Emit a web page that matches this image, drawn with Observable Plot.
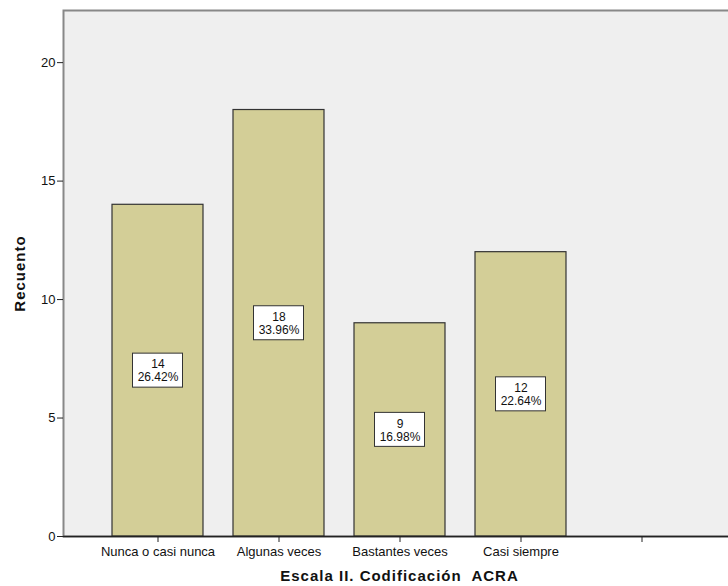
<!DOCTYPE html>
<html>
<head>
<meta charset="utf-8">
<script src="https://cdn.jsdelivr.net/npm/d3@7"></script>
<script src="https://cdn.jsdelivr.net/npm/@observablehq/plot@0.6"></script>
<style>
  html, body { margin: 0; padding: 0; background: white; overflow: hidden; }
  #chart svg { overflow: hidden; }
</style>
</head>
<body>
<div id="chart"></div>
<script>
const categories = ["Nunca o casi nunca", "Algunas veces", "Bastantes veces", "Casi siempre", ""];
const counts = [14, 18, 9, 12];
const percents = ["26.42%", "33.96%", "16.98%", "22.64%"];
const yTicks = [0, 5, 10, 15, 20];

const data = counts.map((c, i) => ({cat: categories[i], count: c, label: `${c}\n${percents[i]}`}));

const chart = Plot.plot({
  width: 728,
  height: 586,
  marginLeft: 63,
  marginRight: -7,
  marginTop: 10,
  marginBottom: 50,
  style: {fontFamily: "'Liberation Sans', Arial, sans-serif", fontSize: "12px", color: "#111", background: "white"},
  x: {domain: categories, paddingInner: 0.25, paddingOuter: 0.4, label: null},
  y: {domain: [0, 22.2], label: null},
  marks: [
    Plot.frame({fill: "#efefef", stroke: "#888", strokeWidth: 2}),
    Plot.barY(data, {x: "cat", y: "count", fill: "#d3ce97", stroke: "#333", strokeWidth: 1.2}),
    Plot.rect(data, {x: "cat", y1: d => d.count / 2, y2: d => d.count / 2, insetLeft: 20.5, insetRight: 20.5, insetTop: -17, insetBottom: -17, fill: "white", stroke: "#333", strokeWidth: 1}),
    Plot.text(data, {x: "cat", y: d => d.count / 2, text: "label", fill: "#111", fontSize: 12, lineHeight: 1.08}),
    Plot.axisY({ticks: yTicks, tickSize: 6, tickPadding: 2, stroke: "#222", fontSize: 13, label: "Recuento", labelAnchor: "center", labelArrow: "none", labelOffset: 49}),
    Plot.axisX({tickSize: 6, tickPadding: 4, stroke: "#222", fontSize: 13, label: "Escala II. Codificación  ACRA", labelAnchor: "center", labelArrow: "none", labelOffset: 44}),
    Plot.ruleX([0], {x: () => 0, stroke: "#222"}),
    Plot.ruleY([0], {stroke: "#222", strokeWidth: 1.5})
  ]
});
document.getElementById("chart").appendChild(chart);
// bold, larger axis titles
chart.querySelectorAll("g[aria-label='y-axis label'] text, g[aria-label='x-axis label'] text").forEach(t => {
  t.setAttribute("font-weight", "bold");
  t.setAttribute("font-size", "15");
  t.setAttribute("letter-spacing", "1");
});
</script>
</body>
</html>
